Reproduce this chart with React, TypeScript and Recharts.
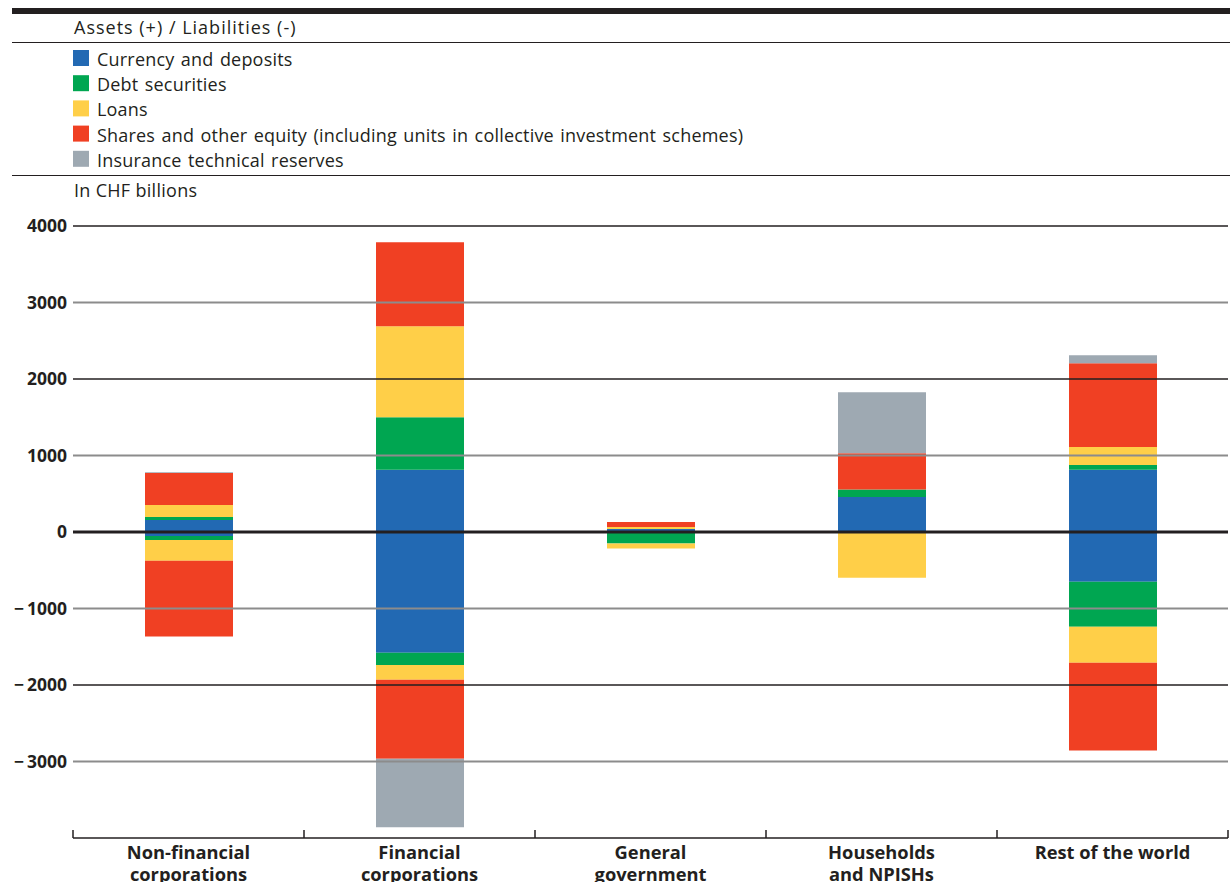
import React from 'react';
import { BarChart, Bar, XAxis, YAxis, ReferenceLine } from 'recharts';

const categories = [
  'Non-financial corporations',
  'Financial corporations',
  'General government',
  'Households and NPISHs',
  'Rest of the world',
];
const categoryLines = [
  ['Non-financial', 'corporations'],
  ['Financial', 'corporations'],
  ['General', 'government'],
  ['Households', 'and NPISHs'],
  ['Rest of the world'],
];

// Assets (+)
const assetsCurrency = [157, 813, 39, 457, 813];
const assetsDebt = [39, 688, 0, 100, 62];
const assetsLoans = [156, 1188, 26, 0, 235];
const assetsShares = [418, 1097, 65, 474, 1096];
const assetsInsurance = [10, 0, 0, 797, 105];

// Liabilities (-)
const liabCurrency = [-52, -1580, 0, 0, -650];
const liabDebt = [-52, -157, -150, 0, -590];
const liabLoans = [-271, -196, -65, -598, -470];
const liabShares = [-992, -1031, 0, 0, -1145];
const liabInsurance = [0, -897, 0, 0, 0];

const yTicks = [4000, 3000, 2000, 1000, 0, -1000, -2000, -3000];

const seriesNames = [
  'Currency and deposits',
  'Debt securities',
  'Loans',
  'Shares and other equity (including units in collective investment schemes)',
  'Insurance technical reserves',
];
const seriesColors = ['#2269b3', '#00a651', '#ffcf48', '#f04023', '#9ea9b2'];

const data = categories.map((name, i) => ({
  name,
  aCur: assetsCurrency[i],
  aDebt: assetsDebt[i],
  aLoans: assetsLoans[i],
  aShares: assetsShares[i],
  aIns: assetsInsurance[i],
  lCur: liabCurrency[i],
  lDebt: liabDebt[i],
  lLoans: liabLoans[i],
  lShares: liabShares[i],
  lIns: liabInsurance[i],
}));

const assetKeys = ['aCur', 'aDebt', 'aLoans', 'aShares', 'aIns'];
const liabKeys = ['lCur', 'lDebt', 'lLoans', 'lShares', 'lIns'];

const FONT = '"Open Sans", sans-serif';
const DARK = '#231f20';

const fmt = (v: number) => (v < 0 ? '\u2212\u2009' + Math.abs(v) : String(v));

const CatTick = (props: any) => {
  const { x, y, payload, index } = props;
  const off = payload.offset ?? 115.5;
  const left = payload.coordinate - off;
  const right = payload.coordinate + off;
  const lines = categoryLines[index] || [payload.value];
  return (
    <g>
      <line x1={left} x2={left} y1={y} y2={y - 8} stroke={DARK} strokeWidth={1.5} />
      {index === categories.length - 1 && (
        <line x1={right} x2={right} y1={y} y2={y - 8} stroke={DARK} strokeWidth={1.5} />
      )}
      <text x={x} y={y + 21} textAnchor="middle" fontFamily={FONT} fontWeight={700} fontSize={18.3} fill={DARK}>
        {lines.map((l: string, i: number) => (
          <tspan key={i} x={x} dy={i === 0 ? 0 : 22}>
            {l}
          </tspan>
        ))}
      </text>
    </g>
  );
};

export default function App() {
  return (
    <div style={{ position: 'absolute', left: 0, top: 0, width: 1230, height: 882, overflow: 'hidden', background: '#fff' }}>
      <svg width={1230} height={215} style={{ position: 'absolute', left: 0, top: 0 }}>
        <rect x={12} y={8} width={1218} height={6} fill={DARK} />
        <text x={74} y={34} fontFamily={FONT} fontSize={18} letterSpacing={1} fill={DARK}>
          Assets (+) / Liabilities (-)
        </text>
        <line x1={12} x2={1230} y1={42.5} y2={42.5} stroke={DARK} strokeWidth={1.2} />
        {seriesNames.map((n, i) => (
          <g key={n}>
            <rect x={73} y={50 + i * 25.2} width={16} height={16} fill={seriesColors[i]} />
            <text x={97} y={66 + i * 25.2} fontFamily={FONT} fontSize={18} letterSpacing={0.2} wordSpacing={1.5} fill={DARK}>
              {n}
            </text>
          </g>
        ))}
        <line x1={12} x2={1230} y1={175.5} y2={175.5} stroke={DARK} strokeWidth={1.2} />
        <text x={74} y={197} fontFamily={FONT} fontSize={18} letterSpacing={0.3} fill={DARK}>
          In CHF billions
        </text>
      </svg>
      <div style={{ position: 'absolute', left: 0, top: 0 }}>
        <BarChart
          width={1230}
          height={882}
          data={data}
          stackOffset="sign"
          barSize={88}
          margin={{ top: 226, right: 2, bottom: 0, left: 0 }}
        >
          {yTicks.map((t) => (
            <ReferenceLine
              key={t}
              y={t}
              stroke={t === 0 ? DARK : t % 2000 === 0 ? DARK : '#8c8c8c'}
              strokeWidth={t === 0 ? 3 : t % 2000 === 0 ? 1.3 : 2}
            />
          ))}
          <XAxis
            dataKey="name"
            height={44}
            interval={0}
            tickLine={false}
            tickSize={0}
            tickMargin={0}
            axisLine={{ stroke: DARK, strokeWidth: 1.5 }}
            tick={<CatTick />}
          />
          <YAxis
            type="number"
            domain={[-4000, 4000]}
            ticks={yTicks}
            width={73}
            axisLine={false}
            tickLine={false}
            tickSize={0}
            tickMargin={6}
            tickFormatter={fmt}
            tick={{ fontFamily: FONT, fontWeight: 700, fontSize: 17.5, fill: DARK }}
            allowDataOverflow
          />
          {assetKeys.map((k, i) => (
            <Bar key={k} dataKey={k} stackId="s" fill={seriesColors[i]} isAnimationActive={false} />
          ))}
          {liabKeys.map((k, i) => (
            <Bar key={k} dataKey={k} stackId="s" fill={seriesColors[i]} isAnimationActive={false} />
          ))}
        </BarChart>
      </div>
    </div>
  );
}
